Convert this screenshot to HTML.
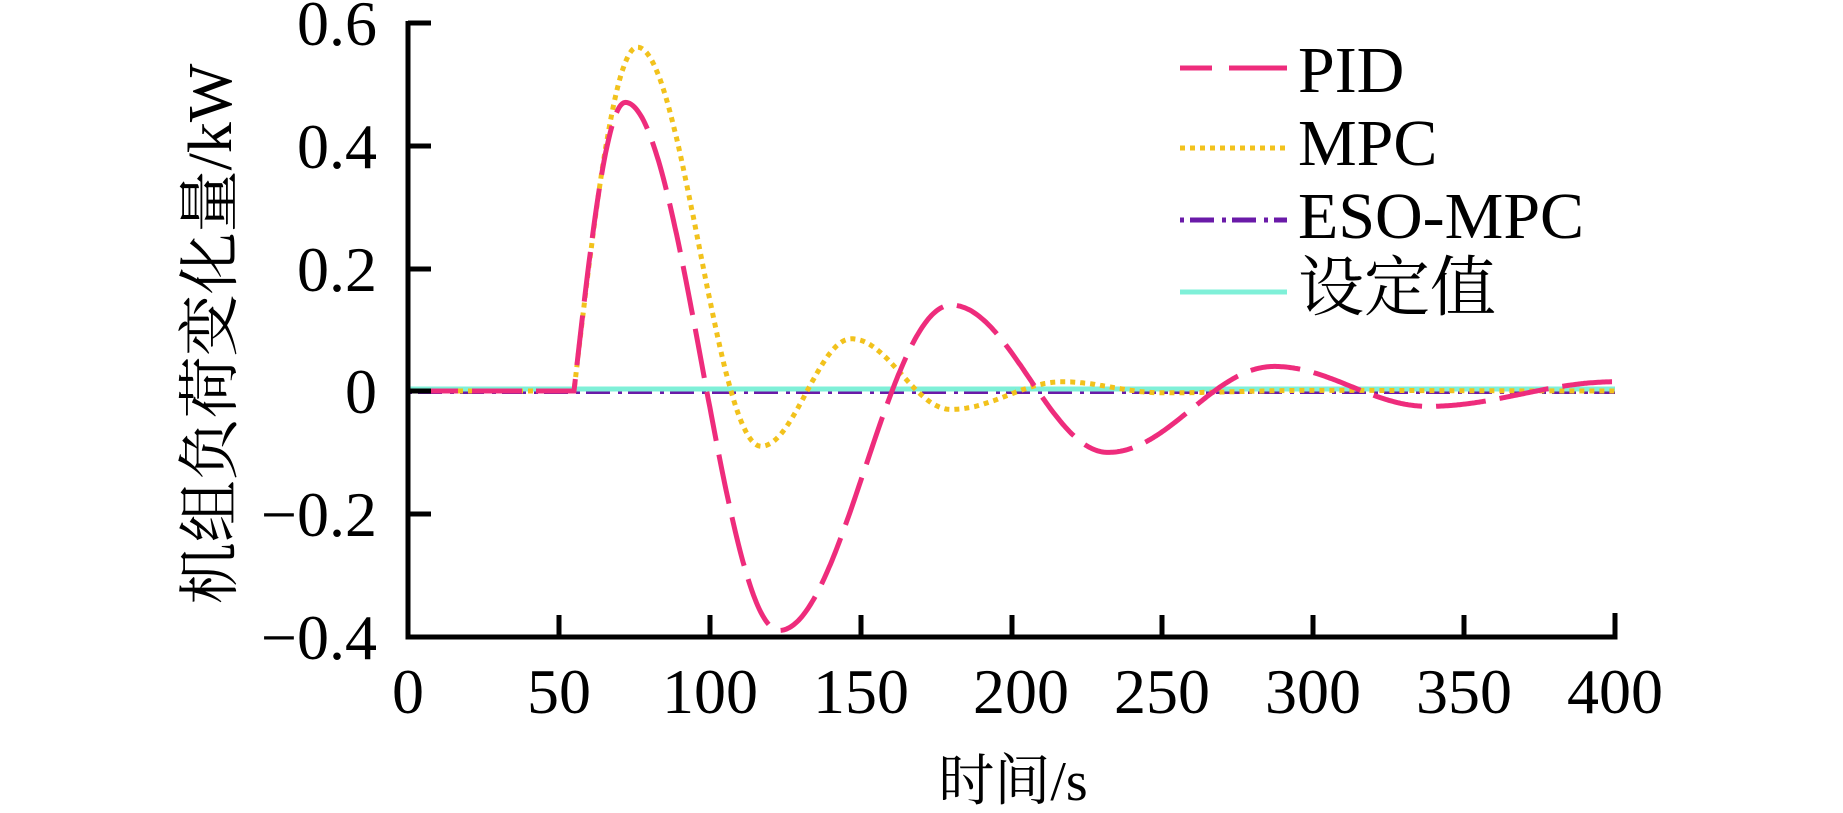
<!DOCTYPE html>
<html><head><meta charset="utf-8"><style>
html,body{margin:0;padding:0;background:#fff;}
svg{display:block;}
text{font-family:"Liberation Serif","Noto Serif CJK SC",serif;fill:#000;}
</style></head><body>
<svg id="s" width="1843" height="813" viewBox="0 0 1843 813" xmlns="http://www.w3.org/2000/svg">
<g font-size="64" text-anchor="end">
<text x="377" y="45">0.6</text>
<text x="377" y="168">0.4</text>
<text x="377" y="291">0.2</text>
<text x="377" y="413">0</text>
<text x="377" y="536">−0.2</text>
<text x="377" y="659">−0.4</text>
</g>
<g font-size="64" text-anchor="middle">
<text x="408" y="713">0</text>
<text x="559" y="713">50</text>
<text x="710" y="713">100</text>
<text x="861" y="713">150</text>
<text x="1021" y="713">200</text>
<text x="1162" y="713">250</text>
<text x="1313" y="713">300</text>
<text x="1464" y="713">350</text>
<text x="1615" y="713">400</text>
</g>
<text x="1013" y="800" font-size="56" text-anchor="middle">时间/s</text>
<text transform="translate(231,334) rotate(-90)" font-size="62" text-anchor="middle">机组负荷变化量/kW</text>
<g id="curves" fill="none"></g>
<g stroke="#000" stroke-width="5" fill="none">
<path d="M408,21 V637 H1615 V613"/>
<path d="M408,23 H431 M408,146 H431 M408,269 H431 M408,391 H431 M408,514 H431"/>
<path d="M559,637 V615 M710,637 V615 M861,637 V615 M1012,637 V615 M1162,637 V615 M1313,637 V615 M1464,637 V615"/>
</g>
<g stroke-width="5">
<path d="M1180,68 H1212 M1229,68 H1287" stroke="#ee2c7c"/>
<line x1="1180" y1="148" x2="1287" y2="148" stroke="#f2c21c" stroke-dasharray="5,5"/>
<line x1="1180" y1="220" x2="1287" y2="220" stroke="#6a1aa8" stroke-dasharray="4,6,24,8"/>
<line x1="1180" y1="292" x2="1287" y2="292" stroke="#7ff0d8"/>
</g>
<g font-size="66">
<text x="1298" y="92">PID</text>
<text x="1298" y="165">MPC</text>
<text x="1298" y="238">ESO-MPC</text>
<text x="1298" y="310">设定值</text>
</g>
</svg>
<script>
function X(t){return 408+t*3.0175;}
function Y(v){return 391-v*614;}
function build(ext,start){
  var pts=[];
  for(var t=0;t<=400;t+=0.5){
    var v=0;
    if(t>=start){
      if(t<=ext[0][0]){v=ext[0][1]*Math.sin(Math.PI/2*(t-start)/(ext[0][0]-start));}
      else{
        for(var i=0;i<ext.length-1;i++){
          var a=ext[i],b=ext[i+1];
          if(t>=a[0]&&t<=b[0]){var f=(1-Math.cos(Math.PI*(t-a[0])/(b[0]-a[0])))/2;v=a[1]+(b[1]-a[1])*f;break;}
        }
      }
    }
    pts.push(X(t).toFixed(1)+","+Y(v).toFixed(1));
  }
  return "M"+pts.join(" L");
}
var pid=[[72,0.47],[123,-0.39],[180,0.14],[232,-0.1],[287,0.04],[338,-0.025],[400,0.015]];
var mpc=[[76,0.56],[117,-0.09],[147,0.085],[180,-0.03],[217,0.015],[250,-0.003],[300,0.001],[400,0]];
var g=document.getElementById("curves");
function add(d,c,da,w){var p=document.createElementNS("http://www.w3.org/2000/svg","path");p.setAttribute("d",d);p.setAttribute("stroke",c);p.setAttribute("stroke-width",w);if(da)p.setAttribute("stroke-dasharray",da);g.appendChild(p);}
add("M408,392 H1615","#6a1aa8","4,6,24,8",4);
add("M408,389 H1615","#7ff0d8",null,5);
add(build(mpc,55),"#f2c21c","5,5",5);
add(build(pid,55),"#ee2c7c","50,14",5);
</script>
</body></html>
